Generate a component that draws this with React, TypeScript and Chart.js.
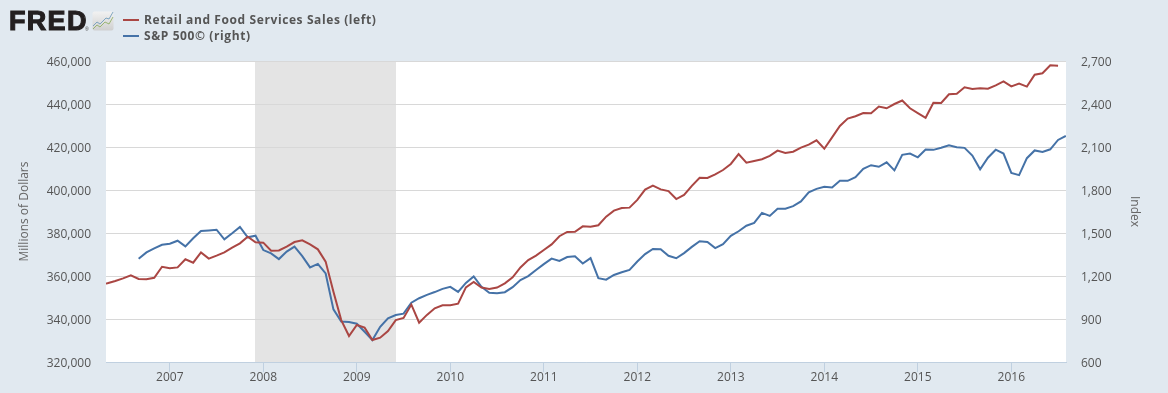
import React, { useEffect, useRef } from "react";
import { Chart, registerables } from "chart.js";

Chart.register(...registerables);

const startYear = 2006;
const startMonth = 4;
const retailSales = [
  356000, 356600, 357700, 358900, 360300, 358600, 358500, 359200, 364300, 363600, 364000, 367800, 366200,
  371000, 368100, 369500, 371000, 373200, 375200, 378300, 375700, 375500, 371800, 371900, 373700, 375800,
  376600, 374700, 372400, 366700, 352700, 339500, 332100, 337200, 336000, 330200, 331300, 334400, 339500,
  340500, 346700, 338300, 341900, 345000, 346400, 346400, 347100, 354700, 357200, 354600, 354000, 354600,
  356600, 359400, 364000, 367400, 369500, 372100, 374700, 378500, 380500, 380600, 383100, 382900, 383600,
  387600, 390400, 391600, 391800, 395400, 400200, 402000, 400300, 399500, 395800, 397700, 401900, 405700,
  405600, 407300, 409300, 412100, 416700, 412700, 413500, 414300, 415900, 418300, 417200, 417800, 419700,
  421100, 423100, 419200, 424500, 429800, 433200, 434300, 435800, 435700, 438800, 438000, 440000, 441600,
  438000, 435800, 433600, 440600, 440500, 444500, 444800, 447800, 447000, 447300, 447100, 448700, 450500,
  448200, 449500, 448100, 453600, 454300, 458000, 457800, null,
];
const sp500 = [
  null, null, null, null, null,
  1321, 1365, 1393, 1418,
  1425, 1446, 1407, 1463, 1514, 1518, 1523, 1456, 1498, 1542, 1470, 1481,
  1381, 1358, 1318, 1370, 1405, 1339, 1260, 1284, 1218, 967, 883, 879,
  867, 811, 753, 846, 904, 928, 937, 1014, 1045, 1068, 1088, 1110,
  1124, 1089, 1152, 1197, 1125, 1083, 1080, 1087, 1122, 1172, 1199, 1242,
  1283, 1321, 1305, 1332, 1338, 1287, 1325, 1185, 1174, 1207, 1226, 1243,
  1301, 1353, 1389, 1386, 1341, 1324, 1360, 1403, 1443, 1438, 1395, 1422,
  1480, 1512, 1551, 1571, 1640, 1619, 1669, 1670, 1687, 1720, 1784, 1808,
  1822, 1817, 1864, 1864, 1890, 1947, 1973, 1962, 1993, 1937, 2045, 2054,
  2028, 2082, 2080, 2095, 2112, 2099, 2094, 2040, 1944, 2025, 2081, 2054,
  1919, 1904, 2022, 2076, 2066, 2084, 2149, 2177,
];
const yearLabels = [2007, 2008, 2009, 2010, 2011, 2012, 2013, 2014, 2015, 2016];
const leftTicks = [320000, 340000, 360000, 380000, 400000, 420000, 440000, 460000];
const rightTicks = [600, 900, 1200, 1500, 1800, 2100, 2400, 2700];
const recession = [
  [2007, 12],
  [2009, 6],
];
const seriesNames = ["Retail and Food Services Sales (left)", "S&P 500© (right)"];
const colors = ["#aa4643", "#4572a7"];

const monthIndex = (y: number, m: number) => (y - startYear) * 12 + (m - startMonth);
const FONT = '"Open Sans", sans-serif';

const bandPlugin = {
  id: "band",
  beforeDraw(chart: any) {
    const { ctx, chartArea: a, scales } = chart;
    ctx.save();
    ctx.fillStyle = "#ffffff";
    ctx.fillRect(a.left, a.top, a.right - a.left, a.bottom - a.top);
    const x0 = Math.floor(scales.x.getPixelForValue(monthIndex(recession[0][0], recession[0][1])));
    const x1 = Math.ceil(scales.x.getPixelForValue(monthIndex(recession[1][0], recession[1][1])));
    ctx.fillStyle = "#e4e4e4";
    ctx.fillRect(x0, a.top, x1 - x0, a.bottom - a.top);
    ctx.restore();
    // the value labels sit slightly below the middle of their gridlines
    for (const id of ["yL", "yR"]) {
      for (const item of scales[id].getLabelItems(a)) {
        if (!item.options.moved) {
          item.options.translation[1] += 1.7;
          item.options.moved = true;
        }
      }
    }
  },
};

function Logo() {
  return (
    <div style={{ position: "absolute", left: 0, top: 0 }}>
      <span
        style={{
          position: "absolute",
          left: 9,
          top: 3,
          font: '900 27px/36px "Liberation Sans", sans-serif',
          color: "#231f20",
          WebkitTextStroke: "1.1px #231f20",
          letterSpacing: "1.3px",
        }}
      >
        FRED
      </span>
      <span style={{ position: "absolute", left: 85, top: 26, font: '5px/6px "Liberation Sans", sans-serif', color: "#444444" }}>®</span>
      <svg width="22" height="20" style={{ position: "absolute", left: 92, top: 11 }} viewBox="0 0 22 20">
        <defs>
          <linearGradient id="g" x1="0" y1="0" x2="0" y2="1">
            <stop offset="0" stopColor="#f2f2f2" />
            <stop offset="1" stopColor="#cfcfcf" />
          </linearGradient>
        </defs>
        <rect x="0.5" y="0.5" width="21" height="19" rx="2" fill="url(#g)" />
        <polyline points="1,15 5,11 8,13 14,7 17,8 21,1" fill="none" stroke="#5f92b5" strokeWidth="0.9" opacity="0.85" />
        <polyline points="1,18 5,14 8,16 13,11 17,13 21,6" fill="none" stroke="#83a852" strokeWidth="0.9" opacity="0.85" />
      </svg>
    </div>
  );
}

function Legend() {
  return (
    <div style={{ position: "absolute", left: 0, top: 0 }}>
      {seriesNames.map((name, i) => (
        <div key={name}>
          <div style={{ position: "absolute", left: 123, top: 19 + i * 16, width: 16, height: 2, background: colors[i] }} />
          <div
            style={{
              position: "absolute",
              left: 144,
              top: 11 + i * 16,
              whiteSpace: "nowrap",
              font: `700 12px/18px ${FONT}`,
              letterSpacing: "0.6px",
              color: "#555555",
            }}
          >
            {name}
          </div>
        </div>
      ))}
    </div>
  );
}

export default function App() {
  const ref = useRef<HTMLCanvasElement | null>(null);

  useEffect(() => {
    const tickFont = { family: FONT, size: 12 };
    const fixedY = (values: number[]) => (scale: any) => {
      scale.ticks = values.map((value) => ({ value }));
    };
    const chart = new Chart(ref.current as HTMLCanvasElement, {
      type: "line",
      plugins: [bandPlugin],
      data: {
        datasets: [
          {
            label: seriesNames[0],
            data: retailSales.map((y, x) => ({ x, y })),
            borderColor: colors[0],
            borderWidth: 2,
            pointRadius: 0,
            tension: 0,
            yAxisID: "yL",
          },
          {
            label: seriesNames[1],
            data: sp500.map((y, x) => ({ x, y })),
            borderColor: colors[1],
            borderWidth: 2,
            pointRadius: 0,
            tension: 0,
            yAxisID: "yR",
          },
        ],
      },
      options: {
        responsive: false,
        animation: false,
        parsing: false,
        normalized: true,
        layout: { padding: { left: 0, right: 0, top: 61, bottom: 0 } },
        plugins: { legend: { display: false }, tooltip: { enabled: false } },
        scales: {
          x: {
            type: "linear",
            min: 0.81,
            max: 124.02,
            afterBuildTicks: (scale: any) => {
              scale.ticks = yearLabels.map((y) => ({ value: monthIndex(y, 1) }));
            },
            afterFit: (scale: any) => {
              scale.height = 31;
            },
            border: { color: "#c0d0e0", width: 1 },
            grid: { drawOnChartArea: false, drawTicks: true, tickLength: 10, color: "#c0d0e0" },
            ticks: {
              autoSkip: false,
              maxRotation: 0,
              padding: -1.5,
              color: "#555555",
              font: tickFont,
              callback: (v: any) => String(startYear + Math.floor((Number(v) + startMonth - 1) / 12)),
            },
          },
          yL: {
            type: "linear",
            position: "left",
            min: 320000,
            max: 460000,
            afterBuildTicks: fixedY(leftTicks),
            afterFit: (scale: any) => {
              scale.width = 106;
            },
            border: { display: false },
            grid: { color: "#d8d8d8", lineWidth: 1, drawTicks: false },
            title: {
              display: true,
              text: "Millions of Dollars",
              color: "#666666",
              font: tickFont,
              padding: { top: 17, bottom: 0 },
            },
            ticks: {
              padding: 15,
              color: "#555555",
              font: tickFont,
              callback: (v: any) => Number(v).toLocaleString("en-US"),
            },
          },
          yR: {
            type: "linear",
            position: "right",
            min: 600,
            max: 2700,
            afterBuildTicks: fixedY(rightTicks),
            afterFit: (scale: any) => {
              scale.width = 102;
            },
            border: { display: false },
            grid: { drawOnChartArea: false, drawTicks: false },
            title: {
              display: true,
              text: "Index",
              color: "#666666",
              font: tickFont,
              padding: { top: 26, bottom: 0 },
            },
            ticks: {
              padding: 15,
              color: "#555555",
              font: tickFont,
              callback: (v: any) => Number(v).toLocaleString("en-US"),
            },
          },
        },
      },
    } as any);
    return () => chart.destroy();
  }, []);

  return (
    <div style={{ position: "absolute", left: 0, top: 0, width: 1168, height: 393, background: "#e1e9f0", overflow: "hidden" }}>
      <canvas ref={ref} width={1168} height={393} style={{ display: "block", position: "absolute", left: 0, top: 0 }} />
      <Logo />
      <Legend />
    </div>
  );
}
